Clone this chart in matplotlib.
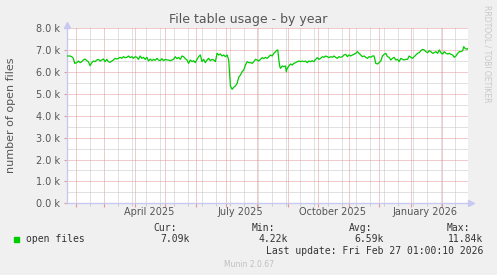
import datetime as dt
import matplotlib
matplotlib.use('Agg')
import matplotlib.pyplot as plt
import matplotlib.dates as mdates
import matplotlib.transforms as mtransforms
from matplotlib.ticker import MultipleLocator, FuncFormatter

# Munin "by year" graph: 400 days ending at last update
last_update = dt.datetime(2026, 2, 27, 1, 0, 10)
start = last_update - dt.timedelta(days=400)

# days since start of graph, open files (averaged)
days = [0, 3.3, 5, 6.6, 8, 10, 11.6, 13.3, 15, 16.6, 18.3, 20, 21.6, 23.3, 25,
        26.6, 28.3, 30, 31.6, 33.3, 35, 36.6, 38.3, 40, 41.6, 43.3, 45, 46.6,
        48.3, 50, 51.6, 53.3, 55, 56.6, 58.3, 60, 61.6, 63.3, 65, 66.6, 68.3,
        70, 71.6, 73.3, 75, 76.6, 78.3, 80, 81.6, 83.3, 85, 86.6, 88.3, 90,
        91.6, 93.3, 95, 96.6, 98.3, 100, 101.6, 103.3, 105, 106.6, 108.3, 110,
        111.6, 113.3, 115, 116.6, 118.3, 120, 121.6, 123.3, 125, 126.6, 128.3,
        130, 131.6, 133.3, 135, 136.6, 138.3, 140, 141.6, 143.3, 145, 146.6,
        148.3, 150, 151.6, 153.3, 155, 156.6, 158.3, 160, 161.6, 162.6, 163.3,
        165, 166.6, 168.3, 170, 171.6, 173.3, 175, 176.6, 178.3, 180, 181.6,
        183.3, 185, 186.6, 188.3, 190, 191.6, 193.3, 195, 196.6, 198.3, 200,
        201.6, 203.3, 205, 206.6, 208.3, 210, 210.6, 211.6, 212.6, 213.3, 215,
        216.6, 218.3, 219, 220, 221.6, 223.3, 225, 226.6, 228.3, 230, 231.6,
        233.3, 235, 236.6, 238.3, 240, 241.6, 243.3, 245, 246.6, 248.3, 250,
        251.6, 253.3, 255, 256.6, 258.3, 260, 261.6, 263.3, 265, 266.6, 268.3,
        270, 271.6, 273.3, 275, 276.6, 278.3, 280, 281.6, 283.3, 285, 286.6,
        288.3, 290, 291.6, 293.3, 295, 296.6, 298.3, 300, 301.6, 303.3, 305,
        306.6, 308.3, 310, 311.6, 313.3, 315, 316.6, 318.3, 320, 321.6, 323.3,
        325, 326.6, 328.3, 330, 331.6, 333.3, 335, 336.6, 338.3, 340, 341.6,
        343.3, 345, 346.6, 348.3, 350, 351.6, 353.3, 355, 356.6, 358.3, 360,
        361.6, 363.3, 365, 366.6, 368.3, 370, 371.6, 373.3, 375, 376.6, 378.3,
        380, 381.6, 383.3, 385, 386.6, 388.3, 390, 391.6, 393.3, 395, 396,
        397.3, 399.3, 400]
open_files = [6734, 6734, 6703, 6627, 6398, 6429, 6505, 6429, 6475, 6551, 6597,
              6520, 6475, 6292, 6429, 6505, 6475, 6551, 6581, 6505, 6551, 6597,
              6475, 6581, 6475, 6444, 6505, 6551, 6627, 6597, 6627, 6673, 6627,
              6703, 6658, 6673, 6734, 6658, 6703, 6627, 6703, 6673, 6581, 6734,
              6627, 6673, 6581, 6673, 6505, 6597, 6520, 6581, 6536, 6627, 6551,
              6520, 6612, 6520, 6581, 6551, 6551, 6520, 6551, 6581, 6703, 6612,
              6673, 6581, 6734, 6703, 6612, 6551, 6398, 6551, 6475, 6520, 6429,
              6581, 6703, 6780, 6475, 6581, 6429, 6551, 6627, 6520, 6581, 6551,
              6475, 6856, 6780, 6825, 6734, 6780, 6703, 6780, 6551, 5865, 5363,
              5211, 5302, 5363, 5485, 5758, 5865, 6017, 6094, 6322, 6475, 6429,
              6429, 6398, 6475, 6581, 6551, 6505, 6581, 6658, 6612, 6673, 6627,
              6703, 6780, 6734, 6856, 6932, 7008, 7008, 6551, 6246, 6170, 6277,
              6246, 6277, 6017, 6170, 6277, 6368, 6322, 6398, 6429, 6475, 6505,
              6475, 6505, 6475, 6505, 6429, 6505, 6475, 6520, 6475, 6581, 6658,
              6581, 6627, 6703, 6673, 6734, 6703, 6658, 6703, 6673, 6734, 6673,
              6627, 6703, 6673, 6703, 6780, 6810, 6703, 6780, 6734, 6780, 6810,
              6856, 6932, 6856, 6780, 6703, 6734, 6673, 6627, 6703, 6673, 6734,
              6734, 6398, 6368, 6429, 6505, 6734, 6810, 6856, 6703, 6673, 6551,
              6627, 6673, 6551, 6581, 6475, 6627, 6581, 6551, 6581, 6581, 6734,
              6673, 6627, 6703, 6780, 6856, 6886, 6977, 7038, 7008, 6932, 6886,
              6977, 6932, 6856, 6886, 6932, 6856, 7008, 6886, 6825, 6932, 6856,
              6825, 6856, 6810, 6780, 6673, 6734, 6856, 6932, 6932, 6977, 7161,
              7084, 7038, 7069]

quarter_labels = ['April 2025', 'July 2025', 'October 2025', 'January 2026']
quarter_label_dates = [dt.datetime(2025, 4, 15, 8), dt.datetime(2025, 7, 15, 8),
                       dt.datetime(2025, 10, 15, 8), dt.datetime(2026, 1, 15, 8)]

stat_names = ['Cur:', 'Min:', 'Avg:', 'Max:']
stat_values = ['7.09k', '4.22k', '6.59k', '11.84k']

BG = '#f0f0f0'
TXT = '#555555'
MAJOR = '#e09898'
MINOR = '#c4c4c4'
AXIS = '#c8c8f0'

fig = plt.figure(figsize=(4.97, 2.75), dpi=100, facecolor=BG)
ax = fig.add_axes([66.7 / 497, 1 - 203.3 / 275, 401 / 497, 175 / 275])
ax.set_facecolor('white')

x = [start + dt.timedelta(days=d) for d in days]
ax.plot(x, open_files, color='#00cc00', lw=0.9, zorder=3)

ax.set_xlim(start, last_update)
ax.set_ylim(0, 8000)

# grids
ax.xaxis.set_major_locator(mdates.MonthLocator())
minor_days = mdates.drange(dt.datetime(2025, 2, 1), last_update, dt.timedelta(days=14))
ax.set_xticks(minor_days, minor=True)
ax.xaxis.set_major_formatter(FuncFormatter(lambda v, p: ''))
ax.yaxis.set_major_locator(MultipleLocator(1000))
ax.yaxis.set_minor_locator(MultipleLocator(500))
ax.yaxis.set_major_formatter(FuncFormatter(lambda v, p: '%.1f k' % (v / 1000)))

ax.grid(which='minor', color=MINOR, lw=0.72, ls=(0, (1, 1)), zorder=1,
        snap=True)
ax.grid(which='major', color=MAJOR, lw=0.72, ls=(0, (1, 1)), zorder=2,
        snap=True)

ax.tick_params(axis='x', which='major', length=3, color=MAJOR, direction='out')
ax.tick_params(axis='x', which='minor', length=2, color=MINOR, direction='out')
ax.tick_params(axis='y', which='major', length=2, color=MAJOR, labelsize=7,
               labelcolor=TXT, pad=3)
ax.tick_params(axis='y', which='minor', length=0)

for s in ['top', 'right']:
    ax.spines[s].set_visible(False)
for s in ['left', 'bottom']:
    ax.spines[s].set_color(AXIS)
    ax.spines[s].set_linewidth(1)
ax.plot(1.008, 0, '>', color=AXIS, ms=4, transform=ax.transAxes, clip_on=False)
ax.plot(0, 1.02, '^', color=AXIS, ms=4, transform=ax.transAxes, clip_on=False)

trans = mtransforms.blended_transform_factory(ax.transData, ax.transAxes)
for d, lab in zip(quarter_label_dates, quarter_labels):
    ax.text(d, -0.05, lab, transform=trans, ha='center', va='center',
            fontsize=7, color=TXT)

fig.text(0.5, 1 - 19 / 275, 'File table usage - by year', ha='center',
         va='center', fontsize=9, color=TXT)
fig.text(11 / 497, 1 - 115 / 275, 'number of open files', rotation=90,
         ha='center', va='center', fontsize=8, color=TXT)
fig.text(487 / 497, 1 - 54 / 275, 'RRDTOOL / TOBI OETIKER', rotation=270,
         ha='center', va='center', fontsize=5.5, color='#c8c8c8')

# legend
mono = 'DejaVu Sans Mono'
fig.patches.append(plt.Rectangle((14 / 497, 1 - 242 / 275), 5 / 497, 5 / 275,
                                 transform=fig.transFigure, color='#00cc00'))
fig.text(26 / 497, 1 - 239.5 / 275, 'open files', ha='left', va='center',
         family=mono, fontsize=7, color='#333333')
name_right = [177, 275, 372, 470]
value_right = [190, 288, 384, 483]
for n, v, nr, vr in zip(stat_names, stat_values, name_right, value_right):
    fig.text(nr / 497, 1 - 227.7 / 275, n, ha='right', va='center',
             family=mono, fontsize=7, color='#333333')
    fig.text(vr / 497, 1 - 239.5 / 275, v, ha='right', va='center',
             family=mono, fontsize=7, color='#333333')
fig.text(483 / 497, 1 - 251 / 275,
         'Last update: ' + last_update.strftime('%a %b %d %H:%M:%S %Y'),
         ha='right', va='center', family=mono, fontsize=7, color='#333333')
fig.text(0.5, 1 - 264.5 / 275, 'Munin 2.0.67', ha='center', va='center',
         fontsize=5.5, color='#c0c0c0')

fig.savefig('out.png', dpi=100, facecolor=BG)
